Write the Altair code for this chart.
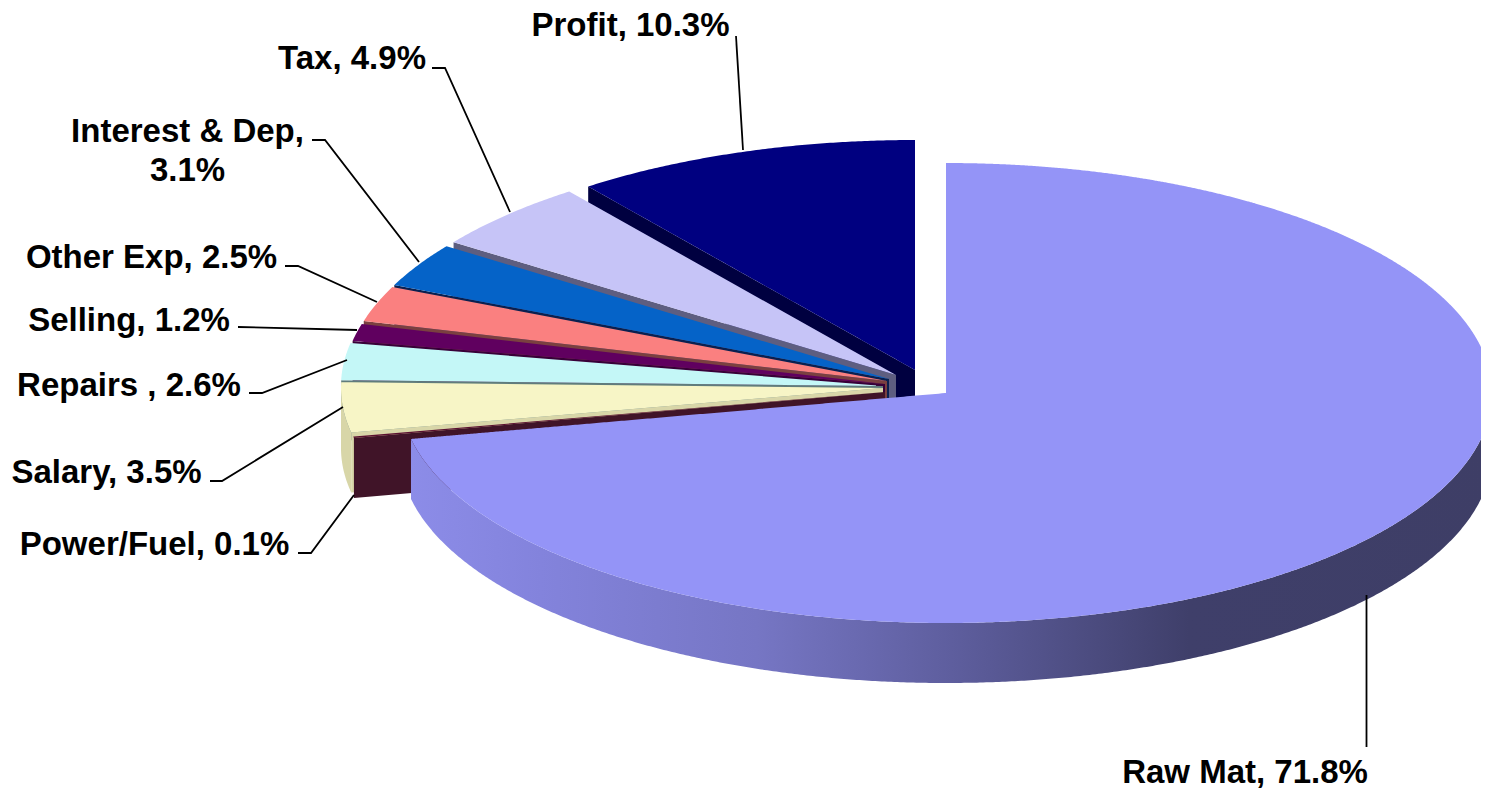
import math
import altair as alt
import pandas as pd

categories = ["Raw Mat", "Power/Fuel", "Salary", "Repairs ", "Selling", "Other Exp", "Interest & Dep", "Tax", "Profit"]
shares = [71.8, 0.1, 3.5, 2.6, 1.2, 2.5, 3.1, 4.9, 10.3]
top_colors = ["#9494F7", "#5A1030", "#F7F5C6", "#C4F7F7", "#60005F", "#FA8080", "#0563C8", "#C6C4F7", "#000080"]
wall_colors = [None, "#401428", "#D8D6A8", "#607C7C", "#380038", "#7A4040", "#0A2050", "#5E5E80", "#000040"]
# where each exploded slice's point sits in the picture
apex_x = [946, 885, 883, 883, 885, 887, 889, 896, 915]
apex_y = [393, 392, 388, 386, 384, 381, 379, 375, 370]
rim_x = [546, 542, 542, 542, 542, 542, 542, 542, 542]
rim_y = [230] * 9
depth = 60
left, top, right, bottom = 8, 8, 1481, 791

label_text = ["Raw Mat, 71.8%", "Power/Fuel, 0.1%", "Salary, 3.5%", "Repairs , 2.6%", "Selling, 1.2%",
              "Other Exp, 2.5%", "Interest & Dep,\n3.1%", "Tax, 4.9%", "Profit, 10.3%"]
label_x = [1245, 154.5, 106.5, 129, 129, 151.5, 187.5, 352, 630.5]
label_y = [773, 545, 473, 386, 321, 258, 132, 59, 26]
leaders = [
    [(1366.5, 595), (1366.5, 747)],
    [(298, 553), (311, 553), (354, 495)],
    [(210, 481), (222, 481), (343, 407)],
    [(249, 393), (262, 393), (347, 360)],
    [(238, 327), (357, 330)],
    [(285, 266), (298, 266), (377, 302)],
    [(312, 140), (325, 140), (419, 262)],
    [(432, 68), (445, 68), (510, 212)],
    [(736, 36), (743, 150)],
]

x_scale = alt.Scale(domain=[left, right], range=[0, right - left], nice=False, zero=False)
y_scale = alt.Scale(domain=[top, bottom], range=[0, bottom - top], nice=False, zero=False)


def rim_point(i, deg):
    a = math.radians(deg)
    return apex_x[i] + rim_x[i] * math.sin(a), apex_y[i] - rim_y[i] * math.cos(a)


def sections(poly):
    """Vertical extent of a polygon at each of its vertices, for an area mark."""
    xs = sorted({p[0] for p in poly})
    rows = []
    lo, hi = xs[0], xs[-1]
    samples = []
    for v in xs:
        samples += [v - 1e-3, v + 1e-3]
    for x in samples:
        if x < lo or x > hi:
            continue
        hits = []
        for (x0, y0), (x1, y1) in zip(poly, poly[1:] + poly[:1]):
            if (x0 <= x < x1) or (x1 <= x < x0):
                hits.append(y0 + (x - x0) / (x1 - x0) * (y1 - y0))
        if len(hits) >= 2:
            rows.append({"x": x, "y": min(hits), "y2": max(hits)})
    return pd.DataFrame(rows)


def area(rows, fill):
    return alt.Chart(rows).mark_area(color=fill, strokeWidth=0, clip=True).encode(
        x=alt.X("x:Q", scale=x_scale, axis=None),
        y=alt.Y("y:Q", scale=y_scale, axis=None),
        y2="y2:Q",
    )


starts = [sum(shares[:i]) * 3.6 for i in range(len(shares))]
ends = [sum(shares[:i + 1]) * 3.6 for i in range(len(shares))]
layers = []

for i in range(len(shares) - 1, -1, -1):
    a0, a1 = starts[i], ends[i]
    n = max(6, int((a1 - a0) * 3))
    arc = [rim_point(i, a0 + (a1 - a0) * k / n) for k in range(n + 1)]
    apex = (apex_x[i], apex_y[i])

    # outer rim wall, where it faces the viewer
    if categories[i] == "Raw Mat":
        low = [p for p in arc if p[1] >= apex_y[i] - 30]
        rows = pd.DataFrame([{"x": p[0], "y": p[1], "y2": p[1] + depth} for p in low])
        stops = [
            alt.GradientStop(offset=0.0, color="#8C8CE8"),
            alt.GradientStop(offset=0.12, color="#8383DC"),
            alt.GradientStop(offset=0.32, color="#7676C4"),
            alt.GradientStop(offset=0.5, color="#5E5E9E"),
            alt.GradientStop(offset=0.72, color="#3F3F6A"),
            alt.GradientStop(offset=1.0, color="#3E3E66"),
        ]
        layers.append(area(rows, alt.LinearGradient(gradient="linear", stops=stops, x1=0, x2=1, y1=0, y2=0)))
    elif categories[i] == "Salary":
        low = [p for p in arc if p[1] >= apex_y[i]]
        rows = pd.DataFrame([{"x": p[0], "y": p[1], "y2": p[1] + depth} for p in low])
        layers.append(area(rows, wall_colors[i]))

    # cut face along the slice's first edge
    if wall_colors[i] is not None:
        e = arc[0]
        wall = [apex, e, (e[0], e[1] + depth), (apex[0], apex[1] + depth)]
        layers.append(area(sections(wall), wall_colors[i]))
        if categories[i] == "Profit":
            e = arc[-1]
            wall = [apex, e, (e[0], e[1] + depth), (apex[0], apex[1] + depth)]
            layers.append(area(sections(wall), wall_colors[i]))

    # top face
    layers.append(area(sections([apex] + arc), top_colors[i]))

leader_rows = pd.DataFrame(
    [{"leader": categories[i], "step": k, "x": p[0], "y": p[1]} for i, path in enumerate(leaders) for k, p in enumerate(path)]
)
layers.append(
    alt.Chart(leader_rows).mark_line(color="#000000", strokeWidth=1.8).encode(
        x=alt.X("x:Q", scale=x_scale, axis=None),
        y=alt.Y("y:Q", scale=y_scale, axis=None),
        detail="leader:N",
        order="step:Q",
    )
)

labels = pd.DataFrame({"text": label_text, "x": label_x, "y": label_y})
layers.append(
    alt.Chart(labels).mark_text(
        font="Liberation Sans", fontSize=33, fontWeight="bold", color="#000000",
        align="center", baseline="middle", lineBreak="\n", lineHeight=39,
    ).encode(
        x=alt.X("x:Q", scale=x_scale, axis=None),
        y=alt.Y("y:Q", scale=y_scale, axis=None),
        text="text:N",
    )
)

chart = alt.layer(*layers).properties(
    width=right - left, height=bottom - top, padding=0,
    autosize=alt.AutoSizeParams(type="none"), background="#FFFFFF",
).configure_view(stroke=None)

chart.save("out.html", embed_options={"renderer": "svg", "actions": False})
